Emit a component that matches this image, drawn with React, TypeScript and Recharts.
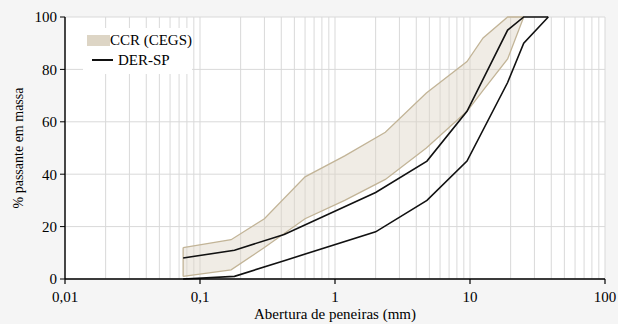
import React from "react";
import {
  ComposedChart,
  Area,
  Line,
  XAxis,
  YAxis,
  CartesianGrid,
  ReferenceLine,
  Legend,
} from "recharts";

// CCR (CEGS) band
const bandSieves = [0.075, 0.17, 0.3, 0.6, 1.18, 2.36, 4.75, 9.5, 12.5, 19, 25];
const bandUpper = [12, 15, 23, 39, 47, 56, 71, 83, 92, 100, 100];
const bandLower = [1, 3.5, 12, 23, 30, 38, 50, 64, 72, 84, 100];

// DER-SP limits
const derSieves = [0.075, 0.18, 0.42, 2.0, 4.8, 9.5, 19, 25, 38];
const derUpper = [8, 11, 17, 33, 45, 64, 95, 100, 100];
const derLower = [0, 1, 7, 18, 30, 45, 75, 90, 100];

const xTicks = [
  0.01, 0.02, 0.03, 0.04, 0.05, 0.06, 0.07, 0.08, 0.09,
  0.1, 0.2, 0.3, 0.4, 0.5, 0.6, 0.7, 0.8, 0.9,
  1, 2, 3, 4, 5, 6, 7, 8, 9,
  10, 20, 30, 40, 50, 60, 70, 80, 90,
  100,
];
const decadeTicks = [0.01, 0.1, 1, 10, 100];
const decadeLabels = ["0,01", "0,1", "1", "10", "100"];
const yTicks = [0, 20, 40, 60, 80, 100];

const bandData = bandSieves.map((x, i) => ({ x, range: [bandLower[i], bandUpper[i]] }));
const derUpperData = derSieves.map((x, i) => ({ x, y: derUpper[i] }));
const derLowerData = derSieves.map((x, i) => ({ x, y: derLower[i] }));

const FONT = "'Liberation Serif', serif";
const FS = 15;
const TICK_SIZE = 5;
const TICK_MARGIN = 7;

const XTick = (props: any) => {
  const { x, y, payload } = props;
  const idx = decadeTicks.findIndex((d) => Math.abs(d - payload.value) < 1e-9);
  if (idx < 0) return null;
  const axisY = y - TICK_SIZE - TICK_MARGIN;
  return (
    <g>
      <line x1={x} y1={axisY} x2={x} y2={axisY + TICK_SIZE} stroke="#000" strokeWidth={1.2} />
      <text x={x} y={y} dy="0.71em" textAnchor="middle" fill="#000" fontSize={FS} fontFamily={FONT}>
        {decadeLabels[idx]}
      </text>
    </g>
  );
};

const LegendBox = () => (
  <div
    style={{
      background: "#fff",
      padding: "2px 0 4px 4px",
      fontFamily: FONT,
      fontSize: FS,
      color: "#000",
      lineHeight: "20px",
      width: 109,
      boxSizing: "border-box",
      whiteSpace: "nowrap",
    }}
  >
    <div style={{ display: "flex", alignItems: "center" }}>
      <span style={{ display: "inline-block", width: 31, height: 11, background: "#ddd5c5" }} />
      <span>CCR (CEGS)</span>
    </div>
    <div style={{ display: "flex", alignItems: "center" }}>
      <span style={{ display: "inline-block", width: 21, height: 0, borderTop: "2px solid #111", marginLeft: 5, marginRight: 5 }} />
      <span>DER-SP</span>
    </div>
  </div>
);

export default function App() {
  return (
    <div style={{ width: 618, height: 324, background: "#f5f5f5", position: "relative" }}>
      <style>{"body{margin:0;background:#f5f5f5}"}</style>
      <ComposedChart
        width={618}
        height={324}
        margin={{ top: 17, right: 13, left: 0, bottom: 0 }}
      >
        <CartesianGrid stroke="#d9d9d9" strokeWidth={1} fill="#fff" />
        <XAxis
          dataKey="x"
          type="number"
          scale="log"
          domain={[0.01, 100]}
          ticks={xTicks}
          interval={0}
          allowDataOverflow
          height={45}
          tickSize={TICK_SIZE}
          tickMargin={TICK_MARGIN}
          tickLine={false}
          tick={<XTick />}
          axisLine={{ stroke: "#000", strokeWidth: 1.6 }}
          label={{
            value: "Abertura de peneiras (mm)",
            position: "insideBottom",
            offset: 5,
            fill: "#000",
            fontSize: FS,
            fontFamily: FONT,
          }}
        />
        <XAxis xAxisId="top" orientation="top" type="number" scale="log" domain={[0.01, 100]} height={0} tick={false} tickLine={false} axisLine={{ stroke: "#7f7f7f", strokeWidth: 1.5 }} />
        <YAxis
          type="number"
          domain={[0, 100]}
          ticks={yTicks}
          width={65}
          tickSize={5}
          tickMargin={3}
          tick={{ fill: "#000", fontSize: FS, fontFamily: FONT }}
          tickLine={{ stroke: "#000" }}
          axisLine={{ stroke: "#000", strokeWidth: 1.4 }}
          label={{
            value: "% passante em massa",
            angle: -90,
            position: "insideLeft",
            offset: 18,
            style: { textAnchor: "middle" },
            fill: "#000",
            fontSize: 14,
            fontFamily: FONT,
          }}
        />
        <YAxis yAxisId="right" orientation="right" domain={[0, 100]} width={0} tick={false} tickLine={false} axisLine={{ stroke: "#7f7f7f", strokeWidth: 1.5 }} />
        <Area
          data={bandData}
          dataKey="range"
          type="linear"
          fill="#ddd5c5"
          fillOpacity={0.45}
          stroke="#c2b497"
          strokeWidth={1.3}
          dot={false}
          activeDot={false}
          isAnimationActive={false}
        />
        <ReferenceLine
          segment={[
            { x: bandSieves[0], y: bandLower[0] },
            { x: bandSieves[0], y: bandUpper[0] },
          ]}
          stroke="#c2b497"
          strokeWidth={1.3}
        />
        <Line
          data={derUpperData}
          dataKey="y"
          type="linear"
          stroke="#111"
          strokeWidth={1.6}
          dot={false}
          activeDot={false}
          isAnimationActive={false}
        />
        <Line
          data={derLowerData}
          dataKey="y"
          type="linear"
          stroke="#111"
          strokeWidth={1.6}
          dot={false}
          activeDot={false}
          isAnimationActive={false}
        />
        <Legend
          content={<LegendBox />}
          layout="vertical"
          verticalAlign="middle"
          align="center"
          wrapperStyle={{ position: "absolute", top: 28, left: 83, width: 109, height: 46 }}
        />
      </ComposedChart>
    </div>
  );
}
